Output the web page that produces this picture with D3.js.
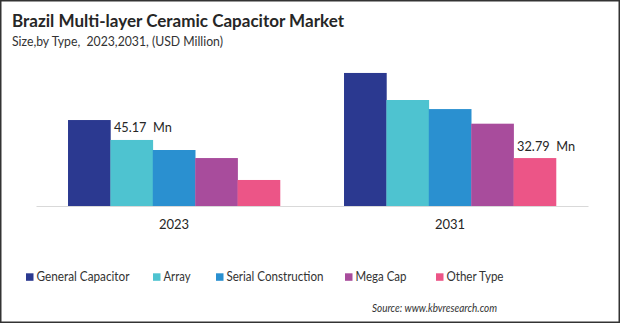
<!DOCTYPE html>
<html><head><meta charset="utf-8">
<script src="https://cdn.jsdelivr.net/npm/d3@7"></script>
<style>body{margin:0;background:#fff;}svg{display:block;font-family:Lato,"Open Sans",sans-serif;}svg text{white-space:pre;}</style>
</head><body>
<svg id="c" width="620" height="323"></svg>
<script>
const years = ["2023", "2031"];
const seriesNames = ["General Capacitor", "Array", "Serial Construction", "Mega Cap", "Other Type"];
const values2023 = [58.8, 45.17, 38.3, 32.8, 17.8];
const values2031 = [91.0, 72.5, 66.3, 56.3, 32.79];
const colors = ["#2b3990", "#4ec3d0", "#2a90d0", "#a84c9c", "#ec5587"];
const annotations = [{year: "2023", series: "Array", text: "45.17  Mn"}, {year: "2031", series: "Other Type", text: "32.79  Mn"}];

const valuesByYear = {"2023": values2023, "2031": values2031};
const svg = d3.select("#c");

// border
svg.append("rect").attr("x", 0.75).attr("y", 0.75).attr("width", 618.5).attr("height", 321.5)
  .attr("fill", "none").attr("stroke", "#333").attr("stroke-width", 1.5);

function fitText(sel, w) { sel.attr("textLength", w).attr("lengthAdjust", "spacingAndGlyphs"); return sel; }

fitText(svg.append("text").attr("x", 12).attr("y", 27).attr("font-size", 16.5).attr("font-weight", "bold")
  .attr("fill", "#262626").text("Brazil Multi-layer Ceramic Capacitor Market"), 332);
fitText(svg.append("text").attr("x", 12).attr("y", 46).attr("font-size", 12.5).attr("fill", "#333")
  .text("Size,by Type,  2023,2031, (USD Million)"), 211);

const baseline = 206;
const x0 = d3.scaleBand().domain(years).range([36, 588]).paddingInner(0.232).paddingOuter(0.116);
const x1 = d3.scaleBand().domain(seriesNames).range([0, x0.bandwidth()]);
const y = d3.scaleLinear().domain([0, 100]).range([baseline, baseline - 146.2]);

const g = svg.append("g");
years.forEach(yr => {
  g.selectAll(null).data(seriesNames).enter().append("rect")
    .attr("x", (s) => x0(yr) + x1(s))
    .attr("width", x1.bandwidth() + 0.3)
    .attr("y", (s, i) => y(valuesByYear[yr][i]))
    .attr("height", (s, i) => baseline - y(valuesByYear[yr][i]))
    .attr("fill", (s, i) => colors[i]);
});

// axis
const xAxis = d3.axisBottom(x0).tickSize(0).tickPadding(14);
const ax = svg.append("g").attr("transform", `translate(0,${baseline})`).call(xAxis);
ax.select(".domain").attr("stroke", "#d9d9d9").attr("stroke-width", 1.2);
ax.selectAll("text").attr("font-size", 13).attr("fill", "#262626").attr("font-family", "Lato,sans-serif");

// annotations
annotations.forEach(a => {
  const i = seriesNames.indexOf(a.series);
  fitText(svg.append("text").attr("x", x0(a.year) + x1(a.series) + 3.5).attr("y", y(valuesByYear[a.year][i]) - 7.5)
    .attr("font-size", 14).attr("fill", "#262626").text(a.text), 58);
});

// legend
const legendX = [26, 153, 216, 345, 436];
const legendW = [93, 27, 97, 51, 57];
seriesNames.forEach((s, i) => {
  svg.append("rect").attr("x", legendX[i]).attr("y", 273.3).attr("width", 7.5).attr("height", 7.5).attr("fill", colors[i]);
  fitText(svg.append("text").attr("x", legendX[i] + 10.5).attr("y", 281).attr("font-size", 14).attr("fill", "#333").text(s), legendW[i]);
});

fitText(svg.append("text").attr("x", 372).attr("y", 312).attr("font-size", 11.5).attr("font-style", "italic")
  .attr("fill", "#333").text("Source: www.kbvresearch.com"), 125);
</script>
</body></html>
